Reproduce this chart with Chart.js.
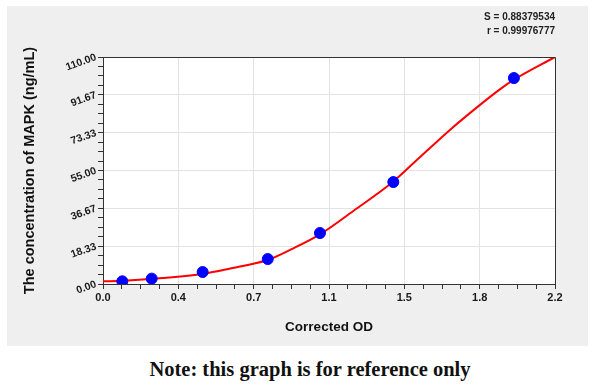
<!DOCTYPE html>
<html>
<head>
<meta charset="utf-8">
<script src="https://cdn.jsdelivr.net/npm/chart.js@4.4.1/dist/chart.umd.min.js"></script>
<style>
  body { margin: 0; background: #ffffff; width: 600px; height: 390px; position: relative; overflow: hidden; }
  #chart { position: absolute; left: 0; top: 0; }
  #note {
    position: absolute; left: 0; width: 620px; top: 357px;
    text-align: center; font-family: "Liberation Serif", "DejaVu Serif", serif;
    font-weight: bold; font-size: 20.5px; line-height: 24px; color: #111;
  }
</style>
</head>
<body>
<canvas id="chart" width="600" height="350"></canvas>
<div id="note">Note: this graph is for reference only</div>
<script>
// standard points (corrected OD vs concentration)
const pointOD = [0.094, 0.237, 0.485, 0.802, 1.056, 1.413, 2.0];
const pointConc = [1.3, 2.6, 5.8, 12.1, 24.7, 49.4, 99.8];

// fitted curve
const curveOD = [0, 0.10, 0.29, 0.49, 0.61, 0.80, 0.92, 1.06, 1.22, 1.41, 1.53, 1.69, 1.82, 1.93, 2.00, 2.20];
const curveConc = [1.3, 1.6, 2.9, 5.0, 7.3, 11.6, 17.0, 24.3, 35.5, 49.4, 60.3, 74.8, 85.6, 94.2, 99.0, 110.0];

const xTickLabels = ['0.0', '0.4', '0.7', '1.1', '1.5', '1.8', '2.2'];
const yTickLabels = ['0.00', '18.33', '36.67', '55.00', '73.33', '91.67', '110.00'];
const fitStats = ['S = 0.88379534', 'r = 0.99976777'];

const xMax = 2.2, yMax = 110, minorPerMajor = 4;

function minorTicks(max, labels) {
    let n = (labels.length - 1) * minorPerMajor;
    let out = [];
    for (let i = 0; i <= n; i++) out.push({ value: max * i / n });
    return out;
}

const panelPlugin = {
    id: 'panel',
    beforeDraw(chart) {
        let ctx = chart.ctx, a = chart.chartArea;
        ctx.save();
        ctx.fillStyle = '#efefef';
        ctx.fillRect(7, 6, 581, 340);
        ctx.fillStyle = '#ffffff';
        ctx.fillRect(a.left, a.top, a.right - a.left, a.bottom - a.top);
        ctx.restore();
    },
    afterDraw(chart) {
        let ctx = chart.ctx, a = chart.chartArea;
        ctx.save();
        ctx.strokeStyle = '#333333';
        ctx.lineWidth = 1;
        ctx.beginPath();
        ctx.moveTo(Math.round(a.left) + 0.5, Math.round(a.top) + 0.5);
        ctx.lineTo(Math.round(a.right) + 0.5, Math.round(a.top) + 0.5);
        ctx.lineTo(Math.round(a.right) + 0.5, Math.round(a.bottom) + 0.5);
        ctx.stroke();
        ctx.restore();
    }
};

const gridColor = (c) => (c.index % minorPerMajor === 0 ? '#e3e3e3' : 'rgba(0,0,0,0)');

new Chart(document.getElementById('chart'), {
    type: 'scatter',
    data: {
        datasets: [{
            label: 'points',
            data: pointOD.map((x, i) => ({ x: x, y: pointConc[i] })),
            backgroundColor: '#0000ff',
            borderColor: '#0000ff',
            pointRadius: 5.5,
            showLine: false
        }, {
            label: 'curve',
            data: curveOD.map((x, i) => ({ x: x, y: curveConc[i] })),
            borderColor: '#ff0000',
            borderWidth: 2,
            pointRadius: 0,
            showLine: true,
            cubicInterpolationMode: 'monotone'
        }]
    },
    options: {
        responsive: false,
        animation: false,
        layout: { padding: { left: 10, right: 45, top: 3, bottom: 4 } },
        plugins: {
            legend: { display: false },
            tooltip: { enabled: false },
            title: {
                display: true,
                text: fitStats,
                align: 'end',
                color: '#222222',
                font: { family: 'Liberation Sans', size: 10, lineHeight: 1.4 },
                padding: { top: 7, bottom: 19 }
            }
        },
        scales: {
            x: {
                type: 'linear',
                min: 0,
                max: xMax,
                afterBuildTicks: (s) => { s.ticks = minorTicks(xMax, xTickLabels); },
                afterFit: (s) => { s.height = 62; },
                ticks: {
                    autoSkip: false,
                    maxRotation: 0,
                    padding: 2,
                    color: '#1a1a1a',
                    font: { family: 'Liberation Sans', size: 11, weight: 'bold' },
                    callback: (v, i) => (i % minorPerMajor === 0 ? xTickLabels[i / minorPerMajor] : '')
                },
                grid: { color: gridColor, tickColor: '#333333', tickLength: 5 },
                border: { color: '#333333', width: 1 },
                title: {
                    display: true,
                    text: 'Corrected OD',
                    color: '#111111',
                    font: { family: 'Liberation Sans', size: 13.5, weight: 'bold' },
                    padding: { top: 4, bottom: 11 }
                }
            },
            y: {
                type: 'linear',
                min: 0,
                max: yMax,
                afterBuildTicks: (s) => { s.ticks = minorTicks(yMax, yTickLabels); },
                afterFit: (s) => { s.width = 93; },
                ticks: {
                    autoSkip: false,
                    minRotation: 20,
                    maxRotation: 20,
                    padding: 2,
                    color: '#1a1a1a',
                    font: { family: 'Liberation Sans', size: 10.5, weight: 'bold' },
                    callback: (v, i) => (i % minorPerMajor === 0 ? yTickLabels[i / minorPerMajor] : '')
                },
                grid: { color: gridColor, tickColor: '#333333', tickLength: 5 },
                border: { color: '#333333', width: 1 },
                title: {
                    display: true,
                    text: 'The concentration of MAPK (ng/mL)',
                    color: '#111111',
                    font: { family: 'Liberation Sans', size: 14.5, weight: 'bold' },
                    padding: { top: 11, bottom: 4 }
                }
            }
        }
    },
    plugins: [panelPlugin]
});
</script>
</body>
</html>
